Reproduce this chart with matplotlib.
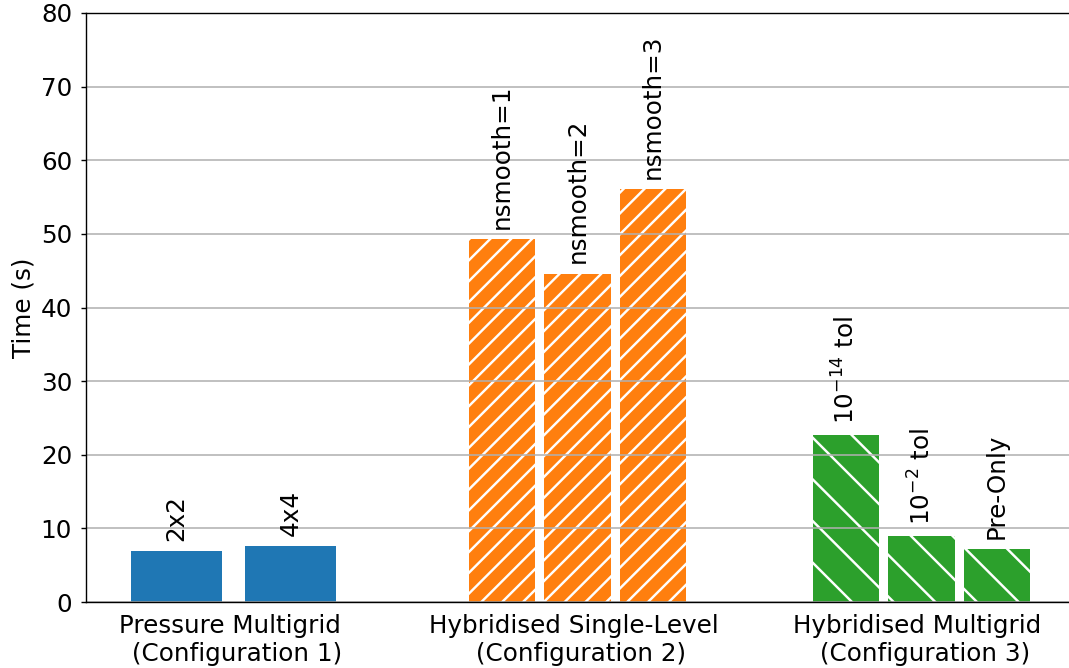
import matplotlib
matplotlib.use("Agg")
import matplotlib.pyplot as plt

# timings per solver configuration (seconds)
groups = ["Pressure Multigrid \n (Configuration 1)",
          "Hybridised Single-Level \n (Configuration 2)",
          "Hybridised Multigrid \n (Configuration 3)"]

pmg_labels = ["2x2", "4x4"]
pmg_times = [6.9, 7.6]

hsl_labels = ["nsmooth=1", "nsmooth=2", "nsmooth=3"]
hsl_times = [49.3, 44.6, 56.1]

hmg_labels = [r"$10^{-14}$ tol", r"$10^{-2}$ tol", "Pre-Only"]
hmg_times = [22.7, 9.0, 7.2]

plt.rcParams["font.family"] = "DejaVu Sans"
plt.rcParams["font.size"] = 7.1
plt.rcParams["hatch.linewidth"] = 0.7

fig = plt.figure(figsize=(1069 / 250, 668 / 250), dpi=250)
ax = fig.add_axes([86 / 1069, 66 / 668, 0.95, 589 / 668])


def draw_group(ax, center, labels, times, step, width, color, hatch):
    n = len(times)
    xs = [center + (i - (n - 1) / 2) * step for i in range(n)]
    bars = ax.bar(xs, times, width=width, color=color, hatch=hatch,
                  edgecolor="white", linewidth=0, zorder=1)
    for b, lab in zip(bars, labels):
        ax.annotate(lab, (b.get_x() + b.get_width() / 2, b.get_height()),
                    xytext=(0, 3), textcoords="offset points",
                    rotation=90, ha="center", va="bottom")
    return bars


draw_group(ax, 0, pmg_labels, pmg_times, 0.3314, 0.265, "#1f77b4", None)
draw_group(ax, 1, hsl_labels, hsl_times, 0.2195, 0.192, "#ff7f0e", "////")
draw_group(ax, 2, hmg_labels, hmg_times, 0.2195, 0.192, "#2ca02c", "\\\\")

ax.set_xlim(-0.4288, -0.4288 + 0.95 * 1069 / 344)
ax.set_ylim(0, 80)
ax.set_xticks([0, 1, 2])
ax.set_xticklabels(groups)
ax.set_ylabel("Time (s)", labelpad=1.6)

ax.tick_params(axis="x", length=0, pad=3.5)
ax.tick_params(axis="y", length=1.4, width=0.4, pad=2.6)
for s in ax.spines.values():
    s.set_linewidth(0.4)
    s.set_zorder(3)

ax.yaxis.grid(True, color="#b0b0b0", linewidth=0.45)
ax.set_axisbelow(False)

fig.savefig("out.png", dpi=250)
